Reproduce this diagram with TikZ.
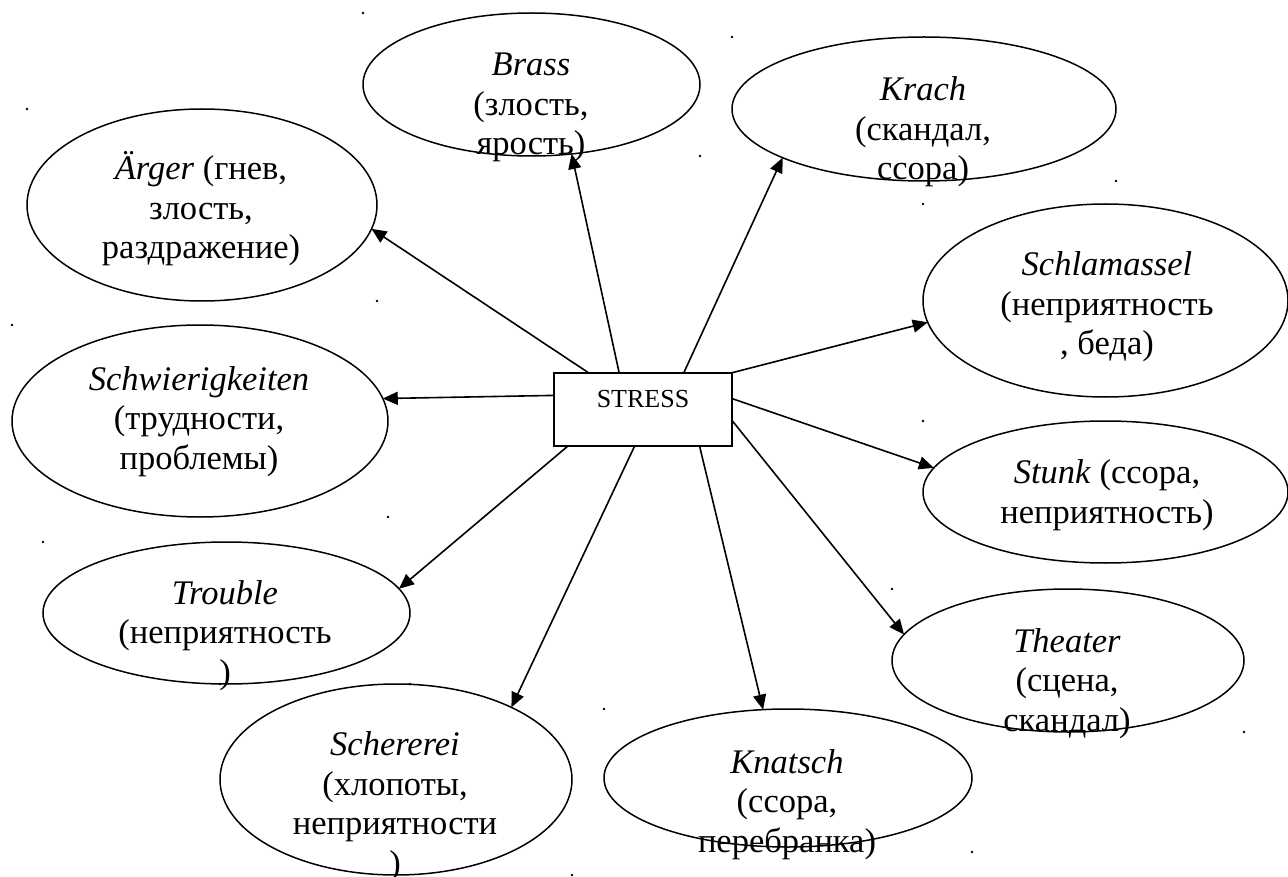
\documentclass[tikz,border=0pt]{standalone}
\usepackage{fontspec}
\setmainfont{Liberation Serif}
\usetikzlibrary{arrows.meta,shapes.geometric}
\tikzset{
  ell/.style={draw, ellipse, line width=1.5pt, inner sep=0pt, outer sep=0pt},
  lbl/.style={align=center, inner sep=0pt, anchor=base, font=\fontsize{34.5}{39.5}\selectfont},
  box/.style={draw, rectangle, line width=2pt, inner sep=0pt, outer sep=0pt, minimum width=178pt, minimum height=73.5pt},
  conn/.style={line width=1.6pt, -{Triangle[length=15pt, width=13pt]}},
  dotmark/.style={fill=black}
}
\begin{document}
\begin{tikzpicture}[x=1pt,y=-1pt]
\useasboundingbox (0,0) rectangle (1288,877);
% central box
\node[box] (stress) at (643,409.5) {};
\node[inner sep=0pt, anchor=base, font=\fontsize{26}{30}\selectfont] (stresst) at (643,407) {STRESS};
% ellipses
\node[ell, minimum width=337pt, minimum height=143pt] (brass) at (531.5,84.5) {};
\node[ell, minimum width=384pt, minimum height=144pt] (krach) at (924,109) {};
\node[ell, minimum width=350pt, minimum height=192pt] (arger) at (202,205) {};
\node[ell, minimum width=376pt, minimum height=192pt] (schw) at (200,421) {};
\node[ell, minimum width=365pt, minimum height=193pt] (schl) at (1105.5,300.5) {};
\node[ell, minimum width=365pt, minimum height=142pt] (stunk) at (1105.5,492) {};
\node[ell, minimum width=352pt, minimum height=143pt] (theater) at (1068,660.5) {};
\node[ell, minimum width=367pt, minimum height=142pt] (trouble) at (226.5,613) {};
\node[ell, minimum width=352pt, minimum height=191pt] (scher) at (396,779.5) {};
\node[ell, minimum width=368pt, minimum height=138pt] (knatsch) at (788,778) {};
% texts (anchor = baseline of last line)
\node[lbl] (brasst) at (531,155) {\textit{Brass}\\(злость,\\ярость)};
\node[lbl] (kracht) at (923,180) {\textit{Krach}\\(скандал,\\ссора)};
\node[lbl] (argert) at (201,259) {\textit{Ärger} (гнев,\\злость,\\раздражение)};
\node[lbl] (schwt) at (199,469) {\textit{Schwierigkeiten}\\(трудности,\\проблемы)};
\node[lbl] (schlt) at (1107,355) {\textit{Schlamassel}\\(неприятность\\, беда)};
\node[lbl] (stunkt) at (1107,523) {\textit{Stunk} (ссора,\\неприятность)};
\node[lbl] (theatert) at (1067,731) {\textit{Theater}\\(сцена,\\скандал)};
\node[lbl] (troublet) at (225,683) {\textit{Trouble}\\(неприятность\\)};
\node[lbl] (schert) at (395,874) {\textit{Schererei}\\(хлопоты,\\неприятности\\)};
\node[lbl] (knatscht) at (787,852) {\textit{Knatsch}\\(ссора,\\перебранка)};
% connectors
\draw[conn] (stress.146.9) -- (arger.-8.7);
\draw[conn] (stress.123.7) -- (brass.-60.5);
\draw[conn] (stress.42.4) -- (krach.-161.45);
\draw[conn] (stress.north east) -- (schl.187.3);
\draw[conn] (stress.7.7) -- (stunk.172.9);
\draw[conn] (stress.-7.4) -- (theater.171.3);
\draw[conn] (stress.-33.1) -- (knatsch.110.6);
\draw[conn] (stress.-103) -- (scher.32);
\draw[conn] (stress.206.6) -- (trouble.8.3);
\draw[conn] (stress.171.9) -- (schw.7.6);
% stray marks
\foreach \p in {(363,13),(700,156),(732,37),(1116,181),(27,109),(377,301),(12,325),(388,517),(923,204),(923,421),(892,589),(1244,732),(43,542),(410,684),(220,684),(572,875),(604,709),(972,852)}
  \fill[dotmark] \p circle[radius=1.3pt];
\end{tikzpicture}
\end{document}
